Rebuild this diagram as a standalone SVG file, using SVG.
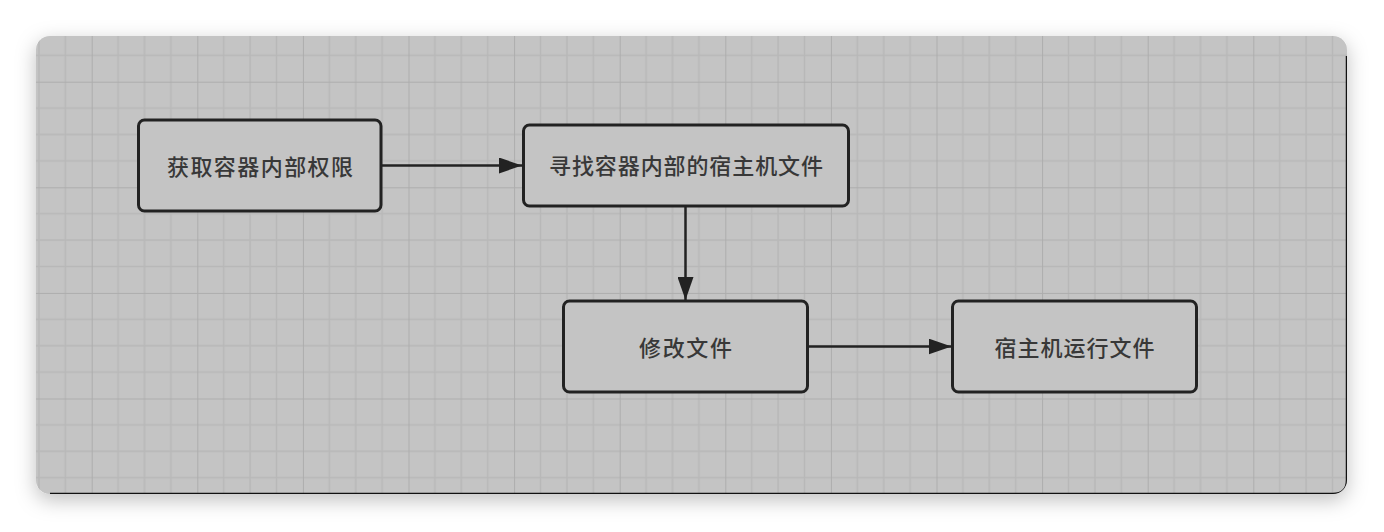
<svg xmlns="http://www.w3.org/2000/svg" width="1384" height="532" viewBox="0 0 1384 532">
  <defs>
    <style>
      .node rect { fill: #c4c4c4; stroke: #222222; stroke-width: 3; }
      .node text { font-family: "Noto Sans CJK SC", "Noto Sans", sans-serif; font-size: 22px; font-weight: 500; fill: #383838; text-anchor: middle; dominant-baseline: central; }
      .edge { stroke: #222222; stroke-width: 2.5; fill: none; marker-end: url(#arrow); }
    </style>
    <marker id="arrow" markerUnits="userSpaceOnUse" markerWidth="24" markerHeight="16" refX="23" refY="8" orient="auto">
      <path d="M0,0 L23,8 L0,16 Z" fill="#222222"/>
    </marker>
    <pattern id="grid" patternUnits="userSpaceOnUse" x="91.7" y="81.7" width="105.6" height="105.6">
      <path d="M26.4,0 V105.6 M52.8,0 V105.6 M79.2,0 V105.6 M0,26.4 H105.6 M0,52.8 H105.6 M0,79.2 H105.6" stroke="#b8b8b8" stroke-width="1.5"/>
      <path d="M0,0 V105.6 M0,0 H105.6" stroke="#adadad" stroke-width="2"/>
    </pattern>
    <clipPath id="canvasClip">
      <rect x="36" y="36" width="1311" height="458" rx="14"/>
    </clipPath>
    <filter id="shadow" x="-5%" y="-20%" width="110%" height="140%">
      <feDropShadow dx="0" dy="6" stdDeviation="10" flood-color="#000000" flood-opacity="0.25"/>
    </filter>
  </defs>
  <rect width="1384" height="532" fill="#ffffff"/>
  <rect x="36" y="36" width="1311" height="458" rx="14" fill="#c4c4c4" filter="url(#shadow)"/>
  <rect x="36" y="36" width="1311" height="458" fill="url(#grid)" clip-path="url(#canvasClip)"/>
  <path d="M1347,56 V480 Q1347,494 1333,494 H50" stroke="#111111" stroke-width="2.5" fill="none" clip-path="url(#canvasClip)"/>

  <g id="connectors">
    <path class="edge" d="M381,165.5 H522"/>
    <path class="edge" d="M685.5,206 V300"/>
    <path class="edge" d="M807,346.5 H951.5"/>
  </g>

  <g id="node1" class="node">
    <rect x="138.5" y="120" width="242.5" height="91" rx="6"/>
    <text x="260" y="165" textLength="186" lengthAdjust="spacing">获取容器内部权限</text>
  </g>
  <g id="node2" class="node">
    <rect x="523.5" y="125" width="325" height="81" rx="6"/>
    <text x="686" y="164" textLength="274" lengthAdjust="spacing">寻找容器内部的宿主机文件</text>
  </g>
  <g id="node3" class="node">
    <rect x="563.5" y="301" width="244" height="91" rx="6"/>
    <text x="685.5" y="346" textLength="93" lengthAdjust="spacing">修改文件</text>
  </g>
  <g id="node4" class="node">
    <rect x="952.5" y="301" width="244" height="91" rx="6"/>
    <text x="1074.5" y="346" textLength="160" lengthAdjust="spacing">宿主机运行文件</text>
  </g>
</svg>
